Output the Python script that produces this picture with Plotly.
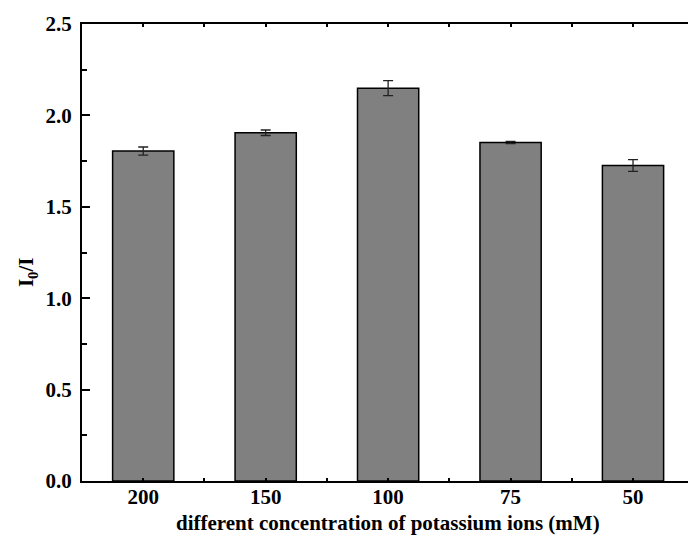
import plotly.graph_objects as go

categories = ["200", "150", "100", "75", "50"]
values = [1.805, 1.905, 2.149, 1.852, 1.726]
errors = [0.022, 0.015, 0.041, 0.006, 0.032]
positions = [1, 2, 3, 4, 5]
y_ticks = [0.0, 0.5, 1.0, 1.5, 2.0, 2.5]
y_tick_labels = ["0.0", "0.5", "1.0", "1.5", "2.0", "2.5"]
x_title = "different concentration of potassium ions (mM)"
y_title = "I<sub>0</sub>/I"

FONT = "Liberation Serif, Times New Roman, serif"

fig = go.Figure()
fig.add_trace(go.Bar(
    x=positions, y=values, width=0.5,
    marker=dict(color="#808080", line=dict(color="#000000", width=1.5)),
    error_y=dict(type="data", array=errors, visible=True,
                 color="#222222", thickness=1.3, width=5),
    showlegend=False,
))

fig.update_layout(
    width=688, height=541,
    margin=dict(l=82, r=0, t=24, b=60),
    plot_bgcolor="white", paper_bgcolor="white",
    font=dict(family=FONT, size=21, color="black"),
    xaxis=dict(
        range=[0.5, 5.449],
        tickmode="array", tickvals=positions, ticktext=categories,
        ticks="inside", ticklen=3, tickwidth=1.5, tickcolor="black",
        minor=dict(tickmode="array", tickvals=[1.5, 2.5, 3.5, 4.5],
                   ticks="inside", ticklen=3, tickwidth=1.5, tickcolor="black"),
        showline=True, linecolor="black", linewidth=2, mirror="ticks",
        showgrid=False, zeroline=False,
        tickfont=dict(family=FONT, size=21, weight="bold"),
        ticklabelstandoff=-4,
    ),
    yaxis=dict(
        range=[0, 2.5],
        tickmode="array", tickvals=y_ticks, ticktext=y_tick_labels,
        ticks="inside", ticklen=8, tickwidth=1.5, tickcolor="black",
        minor=dict(tickmode="array", tickvals=[0.25, 0.75, 1.25, 1.75, 2.25],
                   ticks="inside", ticklen=5, tickwidth=1.5, tickcolor="black"),
        showline=True, linecolor="black", linewidth=2, mirror=False,
        showgrid=False, zeroline=False,
        tickfont=dict(family=FONT, size=21, weight="bold"),
        ticklabelstandoff=4,
    ),
    annotations=[
        dict(
            text=y_title, xref="paper", yref="paper",
            x=-0.0903, y=0.4577, xanchor="center", yanchor="middle",
            textangle=-90, showarrow=False,
            font=dict(family=FONT, size=21, weight="bold", color="black"),
        ),
        dict(
            text=x_title, xref="x", yref="paper",
            x=3, y=-0.0919, xanchor="center", yanchor="middle",
            showarrow=False,
            font=dict(family=FONT, size=21, weight="bold", color="black"),
        ),
    ],
)

fig.write_html("out.html")
